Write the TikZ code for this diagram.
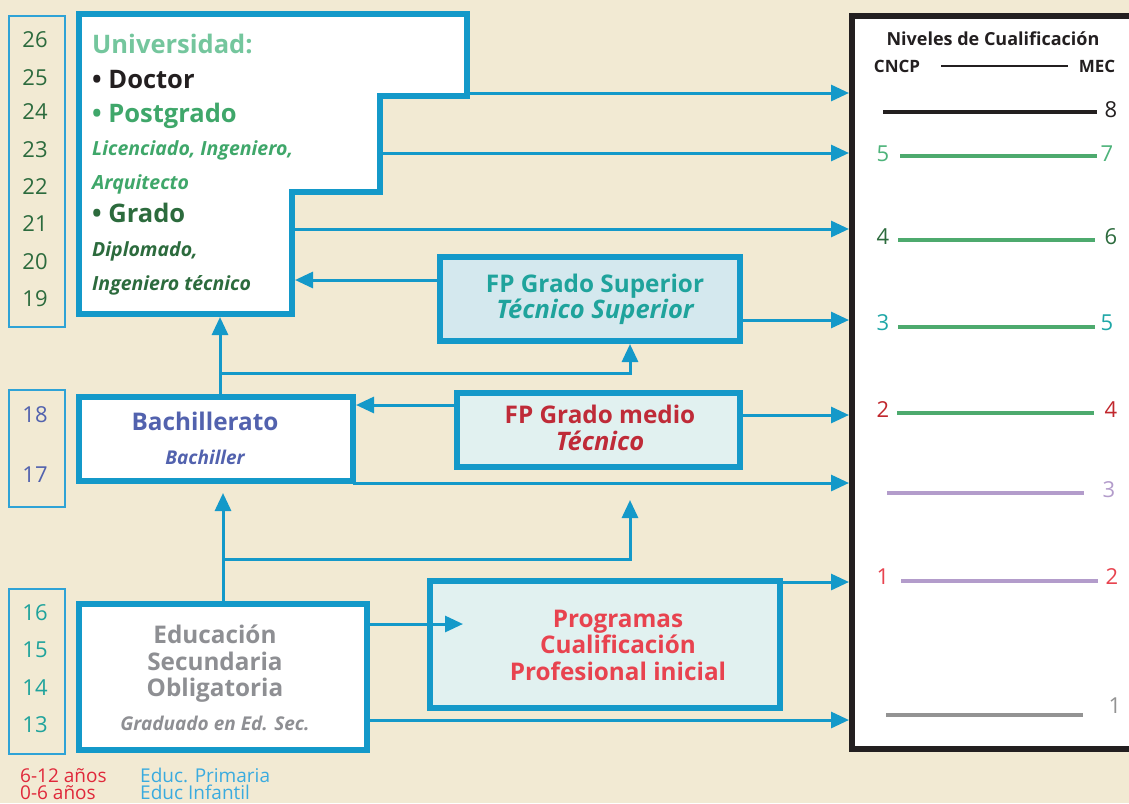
\documentclass[tikz,border=0pt]{standalone}
\usepackage{fontspec}
\setmainfont{Open Sans}
\usetikzlibrary{arrows.meta}
\definecolor{bg}{HTML}{F2EAD3}
\definecolor{bl}{HTML}{1499C9}
\definecolor{agebl}{HTML}{2FA3D6}
\definecolor{dk}{HTML}{231F20}
\definecolor{ltgreen}{HTML}{74C69D}
\definecolor{mgreen}{HTML}{3FA76A}
\definecolor{dgreen}{HTML}{2C6B3D}
\definecolor{slate}{HTML}{5262AE}
\definecolor{teal}{HTML}{1FA39C}
\definecolor{esogray}{HTML}{8E8F93}
\definecolor{fpred}{HTML}{BF2B38}
\definecolor{pred}{HTML}{E8434F}
\definecolor{lgreen}{HTML}{4DAA6E}
\definecolor{lav}{HTML}{B39CCB}
\definecolor{lgray}{HTML}{939393}
\definecolor{fillsup}{HTML}{D4E8EE}
\definecolor{fillmed}{HTML}{E1F1F0}
\definecolor{primblue}{HTML}{3AABDF}
\definecolor{l57}{HTML}{4DB37A}
\definecolor{l35}{HTML}{1FA7A7}
\definecolor{l24}{HTML}{C1272D}
\definecolor{agered}{HTML}{E0283A}
\tikzset{
  box/.style={draw=bl, line width=6pt, inner sep=0pt, outer sep=0pt},
  agebox/.style={draw=agebl, line width=1.2pt},
  conn/.style={draw=bl, line width=3pt},
  arr/.style={conn, -{Triangle[length=18pt,width=16pt]}},
  lvl/.style={line width=3.5pt},
  txt/.style={inner sep=0pt},
  agenum/.style={txt, anchor=base, font=\fontsize{22}{24}\selectfont},
  lvnum/.style={txt, anchor=base, font=\fontsize{22}{24}\selectfont},
  ubig/.style={txt, anchor=base west, font=\fontsize{25.5}{27}\selectfont\bfseries},
  usmall/.style={txt, anchor=base west, font=\fontsize{19.5}{21}\selectfont\bfseries\itshape},
  btitle/.style={txt, anchor=base, font=\fontsize{24.3}{26}\selectfont\bfseries},
  bsub/.style={txt, anchor=base, font=\fontsize{19}{21}\selectfont\bfseries\itshape},
  bsubb/.style={txt, anchor=base, font=\fontsize{25.5}{27}\selectfont\bfseries\itshape},
  foot/.style={txt, anchor=base west, font=\fontsize{19}{21}\selectfont},
}
\begin{document}
\begin{tikzpicture}[x=1pt,y=-1pt]
\useasboundingbox (0,0) rectangle (1129,803);
\fill[bg] (0,0) rectangle (1129,803);

% age boxes
\draw[agebox] (9,16) rectangle (65,327);
\draw[agebox] (9,390) rectangle (65,507);
\draw[agebox] (9,589) rectangle (65,754);
\foreach \n/\y in {26/47,25/85,24/119,23/157,22/194,21/231,20/269,19/306}
  \node[agenum, text=dgreen] (age\n) at (35,\y) {\n};
\node[agenum, text=slate] (age18) at (35,422) {18};
\node[agenum, text=slate] (age17) at (35,482) {17};
\foreach \n/\y in {16/620,15/657,14/695,13/732}
  \node[agenum, text=teal] (age\n) at (35,\y) {\n};

% right qualification box
\draw[draw=dk, fill=white, line width=6pt] (852,16) rectangle (1140,749);
\node[txt, anchor=base, font=\fontsize{18}{20}\selectfont\bfseries, text=dk] (niv) at (993,45) {Niveles de Cualificación};
\node[txt, anchor=base, font=\fontsize{17}{19}\selectfont\bfseries, text=dk] (cncp) at (897,72) {CNCP};
\node[txt, anchor=base, font=\fontsize{17}{19}\selectfont\bfseries, text=dk] (mec) at (1097,72) {MEC};
\draw[dk, line width=2pt] (941,66) coordinate (lg1) -- (1068,66) coordinate (lg2);
% levels
\draw[lvl, dk] (883,112) -- (1097,112);
\node[lvnum, text=dk] (m8) at (1111,117) {8};
\draw[lvl, lgreen] (900,156) -- (1097,156);
\node[lvnum, text=l57] (c5) at (883,161) {5};
\node[lvnum, text=l57] (m7) at (1107,161) {7};
\draw[lvl, lgreen] (898,240) -- (1095,240);
\node[lvnum, text=dgreen] (c4) at (883,244) {4};
\node[lvnum, text=dgreen] (m6) at (1111,244) {6};
\draw[lvl, lgreen] (898,327) -- (1095,327);
\node[lvnum, text=l35] (c3) at (883,330) {3};
\node[lvnum, text=l35] (m5) at (1107,330) {5};
\draw[lvl, lgreen] (897,413) -- (1094,413);
\node[lvnum, text=l24] (c2) at (883,417) {2};
\node[lvnum, text=l24] (m4) at (1111,417) {4};
\draw[lvl, lav] (887,493) -- (1084,493);
\node[lvnum, text=lav] (m3) at (1109,497) {3};
\draw[lvl, lav] (901,581) -- (1098,581);
\node[lvnum, text=pred] (c1) at (883,584) {1};
\node[lvnum, text=pred] (m2) at (1112,584) {2};
\draw[lvl, lgray] (886,715) -- (1083,715);
\node[lvnum, text=lgray] (m1) at (1115,713) {1};

% target coordinates on right box
\foreach \i/\y in {1/93,2/153,3/229,4/320,5/415,6/483,7/582,8/720}
  \coordinate (t\i) at (849,\y);

% university stepped box
\draw[box, fill=white, line join=miter]
  (79,14) coordinate (uTL) -- (467,14) coordinate (uTR) -- (467,96) -- (380,96) coordinate (uS1)
  -- (380,192) -- (292,192) coordinate (uS2) -- (292,314) coordinate (uBR) -- (79,314) coordinate (uBL) -- cycle;
\coordinate (uR1) at (470,93);
\coordinate (uR2) at (383,153);
\coordinate (uR3) at (295,229);
\coordinate (uIn) at (295,280);
\coordinate (uBot) at (220,317);
\node[ubig, text=ltgreen] (u1) at (92,53) {Universidad:};
\node[ubig, text=dk] (u2) at (92,88) {• Doctor};
\node[ubig, text=mgreen] (u3) at (92,122) {• Postgrado};
\node[usmall, text=mgreen] (u4) at (92,155) {Licenciado, Ingeniero,};
\node[usmall, text=mgreen] (u5) at (92,189) {Arquitecto};
\node[ubig, text=dgreen] (u6) at (92,222) {• Grado};
\node[usmall, text=dgreen] (u7) at (92,256) {Diplomado,};
\node[usmall, text=dgreen] (u8) at (92,290) {Ingeniero técnico};

% FP superior
\draw[box, fill=fillsup] (440,257) rectangle (740,341);
\coordinate (supL) at (437,280);
\coordinate (supR) at (743,320);
\coordinate (supB) at (630,344);
\node[btitle, text=teal] (sup1) at (595,292) {FP Grado Superior};
\node[bsubb, text=teal] (sup2) at (595,318) {Técnico Superior};

% FP medio
\draw[box, fill=fillmed] (457,393) rectangle (740,467);
\coordinate (medL) at (454,405);
\coordinate (medR) at (743,415);
\coordinate (medB) at (630,500);
\node[btitle, text=fpred] (med1) at (600,423) {FP Grado medio};
\node[bsubb, text=fpred] (med2) at (600,450) {Técnico};

% Bachillerato
\draw[box, fill=white] (79,397) rectangle (353,481);
\coordinate (bachR) at (356,405);
\coordinate (bachT) at (220,394);
\coordinate (bachBR) at (353,483);
\coordinate (bachB) at (223,493);
\node[btitle, text=slate] (b1) at (205,430) {Bachillerato};
\node[bsub, text=slate] (b2) at (205,464) {Bachiller};

% Programas
\draw[box, fill=fillmed] (430,581) rectangle (780,708);
\coordinate (progTR) at (780,582);
\coordinate (progIn) at (463,624);
\node[btitle, text=pred] (p1) at (618,627) {Programas};
\node[btitle, text=pred] (p2) at (618,653) {Cualificación};
\node[btitle, text=pred] (p3) at (618,680) {Profesional inicial};

% ESO
\draw[box, fill=white] (79,604) rectangle (367,750);
\coordinate (esoT) at (223,601);
\coordinate (esoR) at (370,624);
\coordinate (esoR2) at (370,720);
\node[btitle, text=esogray] (e1) at (215,643) {Educación};
\node[btitle, text=esogray] (e2) at (215,670) {Secundaria};
\node[btitle, text=esogray] (e3) at (215,696) {Obligatoria};
\node[bsub, text=esogray] (e4) at (215,730) {Graduado en Ed. Sec.};

% connectors to right box
\draw[arr] (uR1) -- (t1);
\draw[arr] (uR2) -- (t2);
\draw[arr] (uR3) -- (t3);
\draw[arr] (supR) -- (t4);
\draw[arr] (medR) -- (t5);
\draw[arr] (bachBR) -- (t6);
\draw[arr] (progTR) -- (t7);
\draw[arr] (esoR2) -- (t8);

% internal connectors
\draw[arr] (supL) -- (uIn);
\draw[arr] (medL) -- (bachR);
\draw[arr] (bachT) -- (uBot);
\coordinate (j1) at (220,373);
\draw[arr] (j1) -| (supB);
\draw[arr] (esoT) -- (bachB);
\coordinate (j2) at (223,559);
\draw[arr] (j2) -| (medB);
\draw[arr] (esoR) -- (progIn);

% footer
\node[foot, text=agered] (f1) at (20,782) {6-12 años};
\node[foot, text=agered] (f2) at (20,799) {0-6 años};
\node[foot, text=primblue] (f3) at (140,782) {Educ. Primaria};
\node[foot, text=primblue] (f4) at (140,799) {Educ Infantil};
\end{tikzpicture}
\end{document}
